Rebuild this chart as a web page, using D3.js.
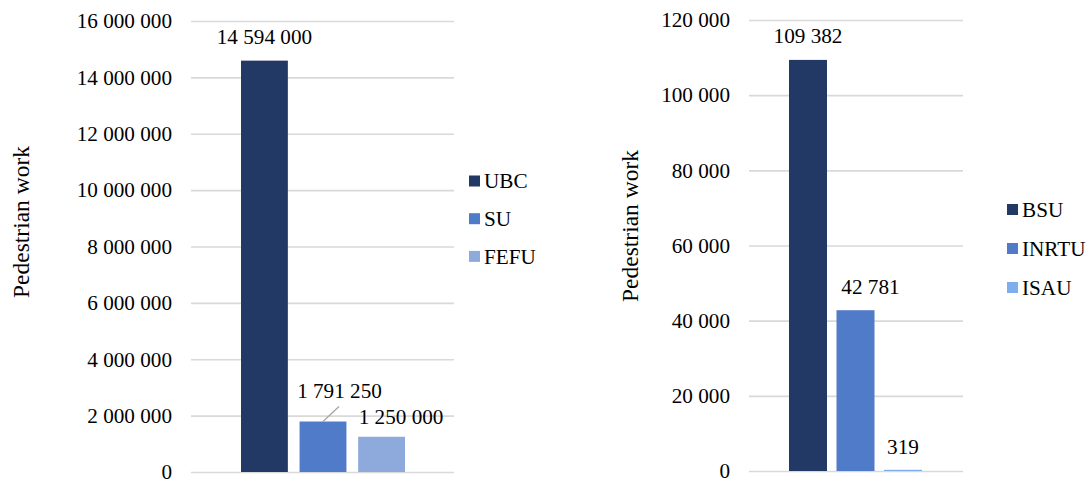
<!DOCTYPE html>
<html>
<head>
<meta charset="utf-8">
<script src="https://cdn.jsdelivr.net/npm/d3@7"></script>
<style>
  html, body { margin: 0; padding: 0; background: #fff; }
  svg { display: block; }
  text { font-family: "Liberation Serif", "Times New Roman", serif; fill: #000; }
</style>
</head>
<body>
<svg id="chart" width="1089" height="482"></svg>
<script>
// Pedestrian work by university – two panels
const leftSeries = ["UBC", "SU", "FEFU"];
const leftValues = [14594000, 1791250, 1250000];
const leftTicks = [0, 2000000, 4000000, 6000000, 8000000, 10000000, 12000000, 14000000, 16000000];

const rightSeries = ["BSU", "INRTU", "ISAU"];
const rightValues = [109382, 42781, 319];
const rightTicks = [0, 20000, 40000, 60000, 80000, 100000, 120000];

const axisTitle = "Pedestrian work";

const locale = d3.formatLocale({ decimal: ",", thousands: " ", grouping: [3], currency: ["", ""] });
const fmt = locale.format(",d");

const FONT = '"Liberation Serif", "Times New Roman", serif';
const svg = d3.select("#chart");
svg.append("rect").attr("width", 1089).attr("height", 482).attr("fill", "#fff");

function panel(cfg) {
  const g = svg.append("g");
  const y = d3.scaleLinear().domain([0, cfg.ticks[cfg.ticks.length - 1]]).range([cfg.bottom, cfg.top]);
  const x = d3.scaleBand().domain(cfg.series).range(cfg.barRange).paddingInner(0.2).paddingOuter(0);
  const color = d3.scaleOrdinal().domain(cfg.series).range(cfg.colors);

  // gridlines + tick labels
  const axis = d3.axisLeft(y).tickValues(cfg.ticks).tickFormat(fmt)
    .tickSize(-(cfg.right - cfg.left)).tickPadding(19);
  const ag = g.append("g").attr("transform", `translate(${cfg.left},0)`).call(axis);
  ag.attr("font-family", FONT);
  ag.select(".domain").remove();
  ag.selectAll(".tick line").attr("stroke", "#d9d9d9").attr("stroke-width", 1.6);
  ag.selectAll(".tick text").attr("font-size", "21.2px").attr("fill", "#000");

  // bars
  g.selectAll("rect.bar").data(cfg.series).join("rect").attr("class", "bar")
    .attr("x", d => x(d))
    .attr("width", x.bandwidth())
    .attr("y", (d, i) => y(cfg.values[i]))
    .attr("height", (d, i) => y(0) - y(cfg.values[i]))
    .attr("fill", d => color(d));

  // value labels
  cfg.series.forEach((s, i) => {
    const n = cfg.nudge[i];
    const cx = x(s) + x.bandwidth() / 2;
    const ty = y(cfg.values[i]);
    g.append("text")
      .attr("x", cx + n[0])
      .attr("y", ty - 17 + n[1])
      .attr("text-anchor", "middle")
      .attr("font-size", "21.2px")
      .text(fmt(cfg.values[i]));
    if (n[2]) {
      g.append("line")
        .attr("x1", cx).attr("y1", ty)
        .attr("x2", cx + n[2][0]).attr("y2", ty + n[2][1])
        .attr("stroke", "#a6a6a6").attr("stroke-width", 1.3);
    }
  });

  // axis title
  g.append("text")
    .attr("transform", `translate(${cfg.titleX},${cfg.titleY}) rotate(-90)`)
    .attr("text-anchor", "middle")
    .attr("font-size", "23.5px")
    .text(axisTitle);

  // legend
  const lg = g.append("g");
  cfg.series.forEach((s, i) => {
    const cy = cfg.legendY + i * cfg.legendStep;
    lg.append("rect").attr("x", cfg.legendX).attr("y", cy - 5.5)
      .attr("width", 11).attr("height", 11).attr("fill", color(s));
    lg.append("text").attr("x", cfg.legendX + 15).attr("y", cy)
      .attr("dy", "0.34em").attr("font-size", "21.2px").text(s);
  });
}

panel({
  series: leftSeries, values: leftValues, ticks: leftTicks,
  colors: ["#223865", "#4f7bc8", "#8eaadc"],
  left: 191, right: 454, top: 21, bottom: 472,
  barRange: [241, 405],
  nudge: [[0, 0, null], [16.5, -7, [16, -15]], [19.5, 4, null]],
  titleX: 29, titleY: 222,
  legendX: 469, legendY: 181, legendStep: 37.7
});

panel({
  series: rightSeries, values: rightValues, ticks: rightTicks,
  colors: ["#223865", "#4f7bc8", "#7eaeee"],
  left: 749, right: 963, top: 20, bottom: 471,
  barRange: [789, 922],
  nudge: [[0, 0, null], [15, 1, null], [0, 1, null]],
  titleX: 638, titleY: 226,
  legendX: 1007, legendY: 209.5, legendStep: 39
});
</script>
</body>
</html>
